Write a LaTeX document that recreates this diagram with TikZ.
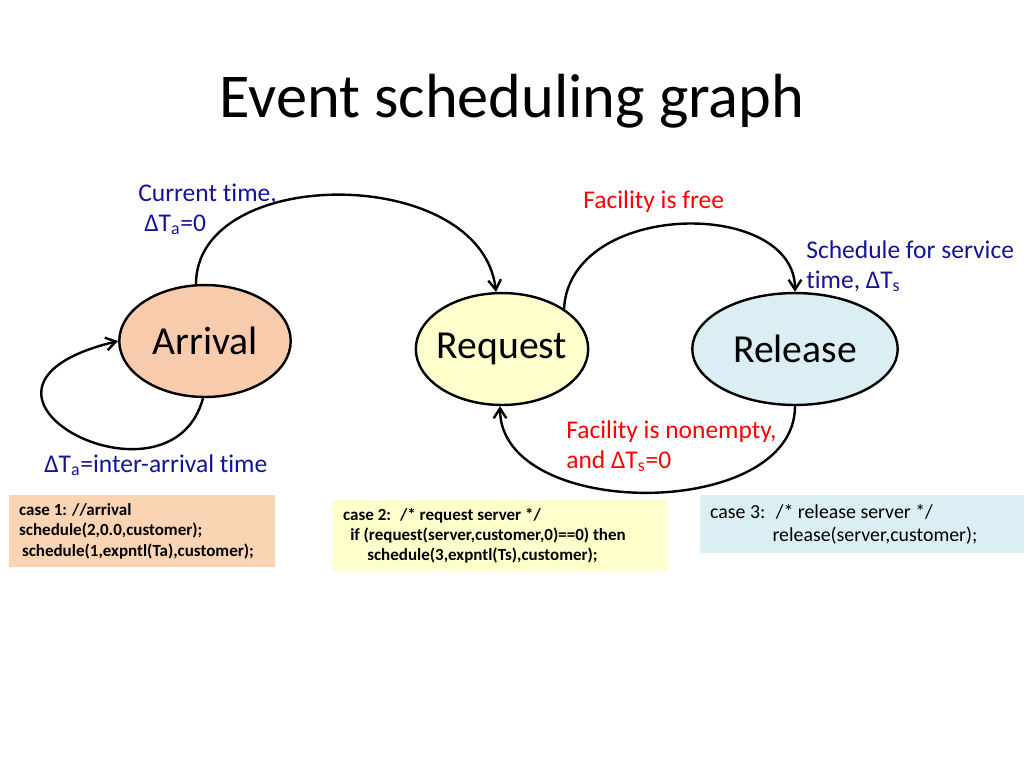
\documentclass[tikz,border=0pt]{standalone}
\usepackage{fontspec}
\setmainfont{Carlito}[Ligatures=NoCommon,Contextuals=NoAlternate]
\usetikzlibrary{shapes.geometric,arrows.meta}
\definecolor{navy}{RGB}{20,20,150}
\definecolor{peach}{RGB}{248,203,173}
\definecolor{peachbox}{RGB}{251,212,180}
\definecolor{lemon}{RGB}{255,255,204}
\definecolor{sky}{RGB}{218,238,243}
\begin{document}
\begin{tikzpicture}[x=0.7057pt,y=-0.7057pt,
    state/.style={ellipse,draw,line width=1.7pt,inner sep=0pt,font=\fontsize{28pt}{32pt}\selectfont},
    edge/.style={line width=1.7pt,-{Straight Barb[length=7pt,width=9pt]}},
    lbl/.style={anchor=base west,inner sep=0pt,font=\fontsize{18pt}{21pt}\selectfont},
    codebox/.style={anchor=north west,align=flush left,inner xsep=7pt,inner ysep=0pt}]
  \useasboundingbox[fill=white] (0,0) rectangle (1024,768);
  \node[anchor=base,font=\fontsize{44pt}{50pt}\selectfont] (title) at (512,117) {Event scheduling graph};
  % states
  \node[state,fill=peach,minimum width=121pt,minimum height=79pt] (arr) at (205,341) {Arrival};
  \node[state,fill=lemon,inner xsep=-3pt,minimum width=121pt,minimum height=79pt] (req) at (502,349) {Request};
  \node[state,fill=sky,minimum width=145pt,minimum height=79pt] (rel) at (795,349) {Release};
  % transitions
  \draw[edge] (arr.99) .. controls +(0,-120) and +(-15,-128) .. (req.96);
  \draw[edge] (req.33) .. controls +(6,-109) and +(0,-94) .. (rel.90);
  \draw[edge] (rel.270) .. controls +(0,115) and +(0,115) .. (req.268);
  \draw[edge] (arr.268) .. controls +(-33,123) and +(-198,48) .. (arr.180);
  % labels
  \node[lbl,text=navy] (cur) at (138,201) {Current t\kern0pt i\kern0pt me,};
  \node[lbl,text=navy] (cura) at (144,231) {ΔT\textsubscript{a}=0};
  \node[lbl,text=navy] (inter) at (44,472) {ΔT\textsubscript{a}=inter-arrival t\kern0pt i\kern0pt me};
  \node[lbl,text=red] (free) at (583,208) {Facility is free};
  \node[lbl,text=navy] (sched) at (806,258) {Schedule for service};
  \node[lbl,text=navy] (schedb) at (806,288) {t\kern0pt i\kern0pt me, ΔT\textsubscript{s}};
  \node[lbl,text=red] (nonempty) at (566,438) {Facility is nonempty,};
  \node[lbl,text=red] (nonemptyb) at (566,468) {and ΔT\textsubscript{s}=0};
  % code
  \node[codebox,fill=peachbox,text width=173.7pt,minimum height=50.8pt,
        font=\bfseries\fontsize{12pt}{14.5pt}\selectfont] (case1) at (9,495)
    {case 1: //arrival\\schedule(2,0.0,customer);\\\hspace{2pt}schedule(1,expntl(Ta),customer);};
  \node[codebox,fill=lemon,text width=221.7pt,minimum height=50.1pt,
        font=\bfseries\fontsize{12pt}{14.3pt}\selectfont] (case2) at (333,500)
    {case 2:~ /* request server */\\\hspace{5pt}if (request(server,customer,0)==0) then\\\hspace{17pt}schedule(3,expntl(Ts),customer);};
  \node[codebox,fill=sky,text width=214.6pt,minimum height=40.9pt,
        font=\fontsize{14pt}{16.3pt}\selectfont] (case3) at (700,495)
    {case 3:~ /* release server */\\\hspace{44pt}release(server,customer);};
\end{tikzpicture}
\end{document}
